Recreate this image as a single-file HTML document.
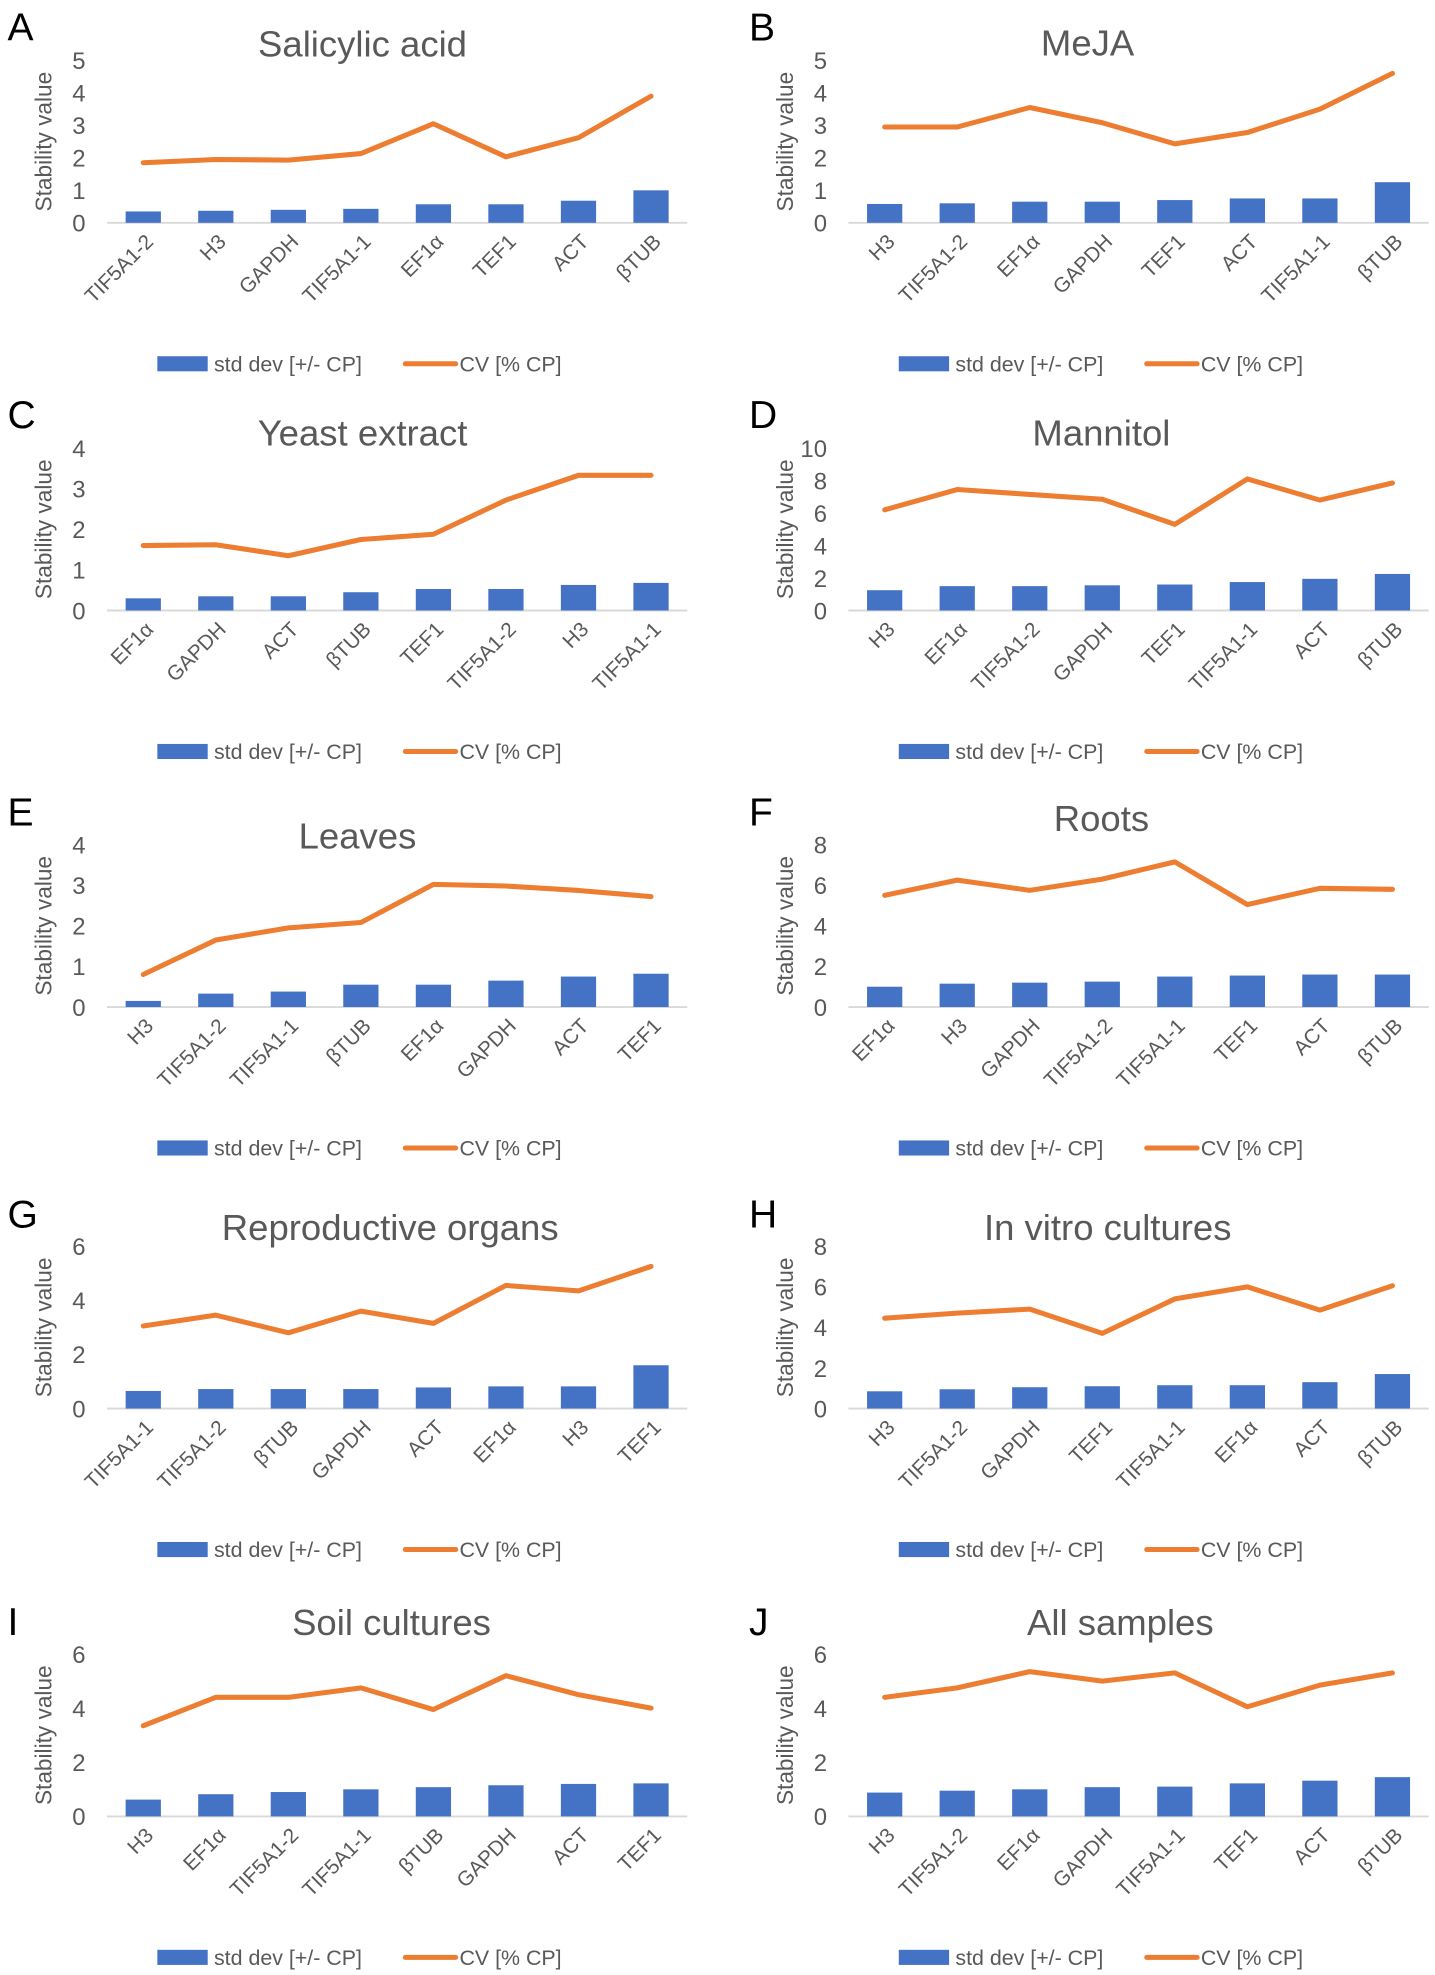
<!DOCTYPE html>
<html><head><meta charset="utf-8"><style>
html,body{margin:0;padding:0;background:#fff}
svg{display:block;font-family:"Liberation Sans",Arial,sans-serif}
</style></head><body>
<svg id="fig" xmlns="http://www.w3.org/2000/svg" width="1435" height="1975" viewBox="0 0 1140 1569"></svg>
<script>
const panelLetters=["A","B","C","D","E","F","G","H","I","J"];
const panelTitles=["Salicylic acid","MeJA","Yeast extract","Mannitol","Leaves","Roots","Reproductive organs","In vitro cultures","Soil cultures","All samples"];
const yMaxes=[5,5,4,10,4,8,6,8,6,6];
const ySteps=[1,1,1,2,1,2,2,2,2,2];
const catsA=["TIF5A1-2","H3","GAPDH","TIF5A1-1","EF1α","TEF1","ACT","βTUB"];
const catsB=["H3","TIF5A1-2","EF1α","GAPDH","TEF1","ACT","TIF5A1-1","βTUB"];
const catsC=["EF1α","GAPDH","ACT","βTUB","TEF1","TIF5A1-2","H3","TIF5A1-1"];
const catsD=["H3","EF1α","TIF5A1-2","GAPDH","TEF1","TIF5A1-1","ACT","βTUB"];
const catsE=["H3","TIF5A1-2","TIF5A1-1","βTUB","EF1α","GAPDH","ACT","TEF1"];
const catsF=["EF1α","H3","GAPDH","TIF5A1-2","TIF5A1-1","TEF1","ACT","βTUB"];
const catsG=["TIF5A1-1","TIF5A1-2","βTUB","GAPDH","ACT","EF1α","H3","TEF1"];
const catsH=["H3","TIF5A1-2","GAPDH","TEF1","TIF5A1-1","EF1α","ACT","βTUB"];
const catsI=["H3","EF1α","TIF5A1-2","TIF5A1-1","βTUB","GAPDH","ACT","TEF1"];
const catsJ=["H3","TIF5A1-2","EF1α","GAPDH","TIF5A1-1","TEF1","ACT","βTUB"];
const stdA=[0.35,0.37,0.4,0.43,0.57,0.57,0.68,1.0];
const stdB=[0.58,0.6,0.65,0.65,0.7,0.75,0.75,1.25];
const stdC=[0.3,0.35,0.35,0.45,0.53,0.53,0.63,0.68];
const stdD=[1.25,1.5,1.5,1.55,1.6,1.75,1.95,2.25];
const stdE=[0.15,0.33,0.38,0.55,0.55,0.65,0.75,0.82];
const stdF=[1.0,1.15,1.2,1.25,1.5,1.55,1.6,1.6];
const stdG=[0.65,0.72,0.72,0.72,0.78,0.82,0.82,1.6];
const stdH=[0.85,0.95,1.05,1.1,1.15,1.15,1.3,1.7];
const stdI=[0.62,0.82,0.9,1.0,1.08,1.15,1.2,1.22];
const stdJ=[0.88,0.95,1.0,1.08,1.1,1.22,1.32,1.45];
const cvA=[1.85,1.95,1.93,2.13,3.05,2.03,2.62,3.9];
const cvB=[2.95,2.95,3.55,3.08,2.43,2.78,3.5,4.6];
const cvC=[1.6,1.62,1.35,1.75,1.88,2.72,3.33,3.33];
const cvD=[6.2,7.45,7.15,6.85,5.3,8.1,6.8,7.85];
const cvE=[0.8,1.65,1.95,2.08,3.02,2.98,2.87,2.72];
const cvF=[5.5,6.25,5.75,6.3,7.15,5.05,5.85,5.8];
const cvG=[3.05,3.45,2.8,3.6,3.15,4.55,4.35,5.25];
const cvH=[4.45,4.7,4.9,3.7,5.4,6.0,4.85,6.05];
const cvI=[3.35,4.4,4.4,4.75,3.95,5.2,4.5,4.0];
const cvJ=[4.4,4.75,5.35,5.0,5.3,4.05,4.85,5.3];
const legendLabels=["std dev [+/- CP]","CV [% CP]"];

const allCats=[catsA,catsB,catsC,catsD,catsE,catsF,catsG,catsH,catsI,catsJ];
const allStd=[stdA,stdB,stdC,stdD,stdE,stdF,stdG,stdH,stdI,stdJ];
const allCv=[cvA,cvB,cvC,cvD,cvE,cvF,cvG,cvH,cvI,cvJ];
const rowOff=[0,308,623,942,1266];
const titlePos=[[288,45],[864,44],[288,354],[875,354],[284,674],[875,660],[310,985],[880,985],[311,1299],[890,1299]];
const NS="http://www.w3.org/2000/svg";
const svg=document.getElementById('fig');
const GRAY="#595959";
function mk(tag,attrs,parent,txt){const e=document.createElementNS(NS,tag);for(const k in attrs)e.setAttribute(k,attrs[k]);if(txt!==undefined)e.textContent=txt;parent.appendChild(e);return e;}

for(let p=0;p<10;p++){
  const ox=(p%2)*589, oy=rowOff[Math.floor(p/2)];
  const g=mk('g',{},svg);
  
  
  const L=mk('text',{x:ox+6,y:oy+32+(p>=4?1:0),'font-size':31,fill:'#000'},g,panelLetters[p]);
  
  
  const T=mk('text',{x:titlePos[p][0],y:titlePos[p][1],'font-size':29,fill:GRAY,'text-anchor':'middle'},g,panelTitles[p]);
  
  
  const left=ox+85,right=ox+546,top=oy+48,bot=oy+177;
  const ymax=yMaxes[p];
  const yS=v=>bot-(v/ymax)*(bot-top);
  const band=(right-left)/8;
  const xS=i=>left+band*(i+0.5);
  const YT=mk('text',{x:0,y:0,'font-size':18,fill:GRAY,'text-anchor':'middle',transform:`translate(${ox+41},${(top+bot)/2}) rotate(-90)`},g,'Stability value');
  
  
  for(let v=0;v<=ymax;v+=ySteps[p]){
    const t=mk('text',{x:ox+68,y:yS(v)+7,'font-size':19,fill:GRAY,'text-anchor':'end'},g,String(v));
    
    
  }
  const ax=mk('line',{x1:left,x2:right,y1:bot,y2:bot,stroke:'#d9d9d9','stroke-width':1.5},g);
  
  
  const cats=allCats[p],sd=allStd[p],cv=allCv[p];
  for(let i=0;i<8;i++){
    const b=mk('rect',{x:xS(i)-14,y:yS(sd[i]),width:28,height:bot-yS(sd[i]),fill:'#4472C4'},g);
    
    
    const c=mk('text',{x:0,y:0,'font-size':16.5,fill:GRAY,'text-anchor':'end',transform:`translate(${xS(i)+9},${bot+16}) rotate(-45)`},g,cats[i]);
    
    
  }
  const pts=cv.map((v,i)=>xS(i).toFixed(1)+','+yS(v).toFixed(1)).join(' ');
  const ln=mk('polyline',{points:pts,fill:'none',stroke:'#ED7D31','stroke-width':4,'stroke-linejoin':'round','stroke-linecap':'round'},g);
  
  
  const ly=oy+289;
  const lr=mk('rect',{x:ox+125,y:ly-6,width:40,height:12,fill:'#4472C4'},g);
  
  
  const lt1=mk('text',{x:ox+170,y:ly+6,'font-size':17,fill:GRAY},g,legendLabels[0]);
  
  
  const ll=mk('line',{x1:ox+322,x2:ox+362,y1:ly,y2:ly,stroke:'#ED7D31','stroke-width':4,'stroke-linecap':'round'},g);
  
  
  const lt2=mk('text',{x:ox+365,y:ly+6,'font-size':17,fill:GRAY},g,legendLabels[1]);
  
  
}
</script>
</body></html>
